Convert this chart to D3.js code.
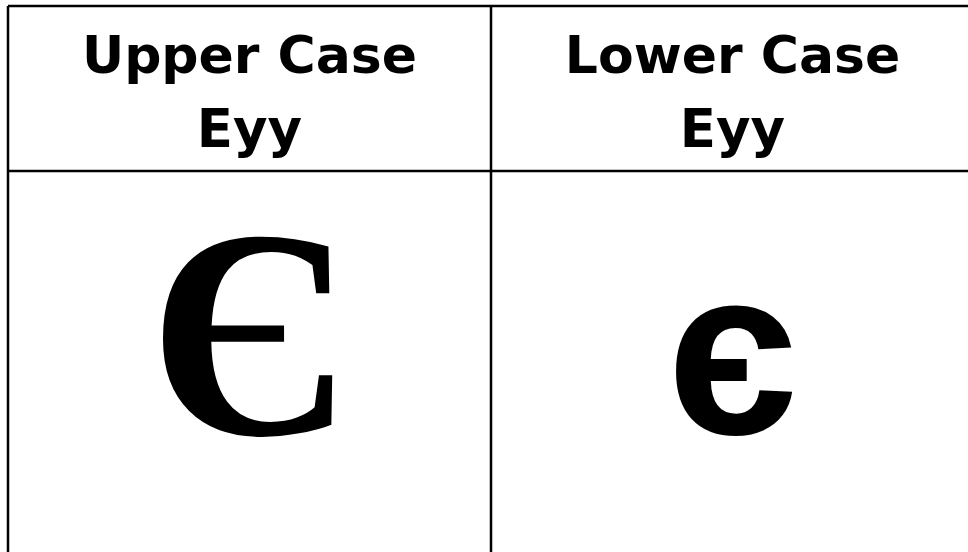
<!DOCTYPE html>
<html>
<head>
<meta charset="utf-8">
<script src="https://cdn.jsdelivr.net/npm/d3@7"></script>
<style>
  body { margin: 0; background: #fff; }
</style>
</head>
<body>
<div id="chart"></div>
<script>
// table content
const columns = ["Upper Case", "Lower Case"];
const subTitles = ["Eyy", "Eyy"];
const letters = ["Є", "є"];

const width = 968, height = 552;

const svg = d3.select("#chart")
  .append("svg")
  .attr("width", width)
  .attr("height", height);

// columns run past the right edge like in the original
const x = d3.scaleBand()
  .domain(columns)
  .range([8, 974]);

const headTop = 6, headBottom = 171;

// grid lines
svg.append("line")
  .attr("x1", 8).attr("x2", width)
  .attr("y1", headTop).attr("y2", headTop)
  .style("stroke", "black").style("stroke-width", 2.5);

svg.append("line")
  .attr("x1", 8).attr("x2", width)
  .attr("y1", headBottom).attr("y2", headBottom)
  .style("stroke", "black").style("stroke-width", 2.5);

svg.selectAll("line.col")
  .data(columns)
  .enter()
  .append("line")
  .attr("class", "col")
  .attr("x1", (d) => x(d)).attr("x2", (d) => x(d))
  .attr("y1", headTop).attr("y2", height)
  .style("stroke", "black").style("stroke-width", 2.5);

// header text
const head = svg.selectAll("g.head")
  .data(columns)
  .enter()
  .append("g")
  .attr("class", "head")
  .attr("transform", (d) => `translate(${x(d) + x.bandwidth() / 2},0)`);

head.append("text")
  .attr("y", 73)
  .attr("text-anchor", "middle")
  .style("font-family", "DejaVu Sans")
  .style("font-weight", "bold")
  .style("font-size", "52px")
  .text((d) => d);

head.append("text")
  .attr("y", 147)
  .attr("text-anchor", "middle")
  .style("font-family", "DejaVu Sans")
  .style("font-weight", "bold")
  .style("font-size", "53px")
  .text((d, i) => subTitles[i]);

// big letters
svg.selectAll("text.letter")
  .data(letters)
  .enter()
  .append("text")
  .attr("class", "letter")
  .attr("x", (d, i) => x(columns[i]) + x.bandwidth() / 2)
  .attr("y", 434)
  .attr("text-anchor", "middle")
  .style("font-family", (d, i) => i === 0 ? "Liberation Serif" : "Liberation Sans")
  .style("font-weight", "bold")
  .style("font-size", (d, i) => i === 0 ? "298px" : "238px")
  .text((d) => d);
</script>
</body>
</html>
